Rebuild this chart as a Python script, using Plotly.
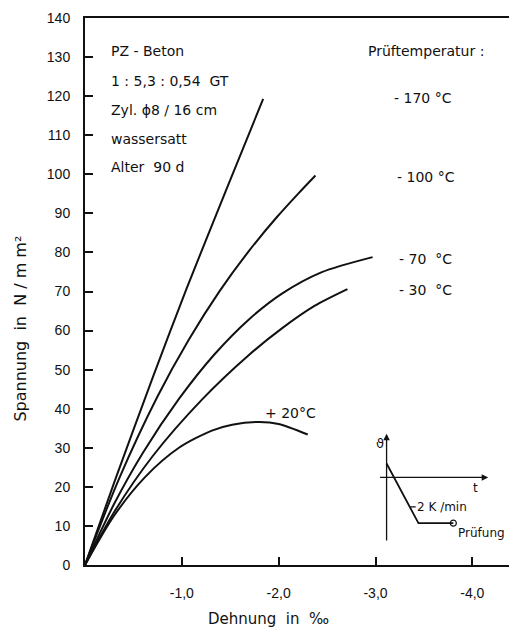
import plotly.graph_objects as go

# ---- data (strain in per mille, stress in N/mm^2) ----
c170_strain = [0, -0.3, -0.7, -1.05, -1.45, -1.84]
c170_stress = [0, 21, 48, 70.8, 95.5, 119.3]

c100_strain = [0, -0.35, -0.75, -1.07, -1.39, -1.70, -1.98, -2.2, -2.38]
c100_stress = [0, 22, 43.2, 57.6, 70.1, 80.6, 89.0, 95.0, 99.7]

c70_strain = [0, -0.3, -0.6, -0.97, -1.34, -1.69, -2.03, -2.44, -2.97]
c70_stress = [0, 15.6, 28.8, 42.5, 54.0, 62.8, 69.4, 74.9, 78.8]

c30_strain = [0, -0.3, -0.7, -1.21, -1.69, -2.03, -2.37, -2.71]
c30_stress = [0, 13.5, 27.9, 42.4, 53.7, 60.5, 66.3, 70.6]

c20_strain = [0, -0.3, -0.62, -0.97, -1.31, -1.52, -1.8, -2.0, -2.3]
c20_stress = [0, 12.6, 22.5, 30.0, 34.4, 35.9, 36.6, 36.1, 33.4]

x_tickvals = [-1, -2, -3, -4]
x_ticktext = ["-1,0", "-2,0", "-3,0", "-4,0"]
y_tickvals = list(range(0, 141, 10))
y_ticktext = [str(v) for v in y_tickvals]

# inset schematic: time vs temperature
inset_t = [0, 3.2, 6.7]
inset_theta = [1.4, -4.6, -4.6]

FONT = "DejaVu Sans, Liberation Sans, sans-serif"
TICKFONT = "Liberation Sans, Arial, sans-serif"
INK = "#111111"

fig = go.Figure()
for xs, ys in [(c170_strain, c170_stress), (c100_strain, c100_stress),
               (c70_strain, c70_stress), (c30_strain, c30_stress),
               (c20_strain, c20_stress)]:
    fig.add_trace(go.Scatter(x=xs, y=ys, mode="lines",
                             line=dict(color=INK, width=2, shape="spline", smoothing=0.8),
                             showlegend=False, hoverinfo="skip"))

# inset curve
fig.add_trace(go.Scatter(x=inset_t, y=inset_theta, mode="lines", xaxis="x2", yaxis="y2",
                         line=dict(color=INK, width=1.8), showlegend=False, hoverinfo="skip"))
fig.add_trace(go.Scatter(x=inset_t[-1:], y=inset_theta[-1:], mode="markers", xaxis="x2", yaxis="y2",
                         marker=dict(symbol="circle-open", size=6, color=INK, line=dict(width=1.2)),
                         showlegend=False, hoverinfo="skip"))

# page body has an 8px default margin -> figure is 8px smaller, margins 8px less
fig.update_layout(
    width=509, height=619,
    margin=dict(l=77, r=2, t=7, b=62),
    paper_bgcolor="white", plot_bgcolor="white",
    font=dict(family=FONT, color=INK, size=14),
    xaxis=dict(range=[0, -4.42], showgrid=False, zeroline=False,
               showline=True, linecolor=INK, linewidth=2, mirror=True,
               ticks="inside", ticklen=8, tickwidth=1.5, tickcolor=INK,
               tickvals=x_tickvals, ticktext=x_ticktext,
               tickfont=dict(family=TICKFONT, size=14), ticklabelstandoff=14),
    yaxis=dict(range=[0, 140], showgrid=False, zeroline=False,
               showline=True, linecolor=INK, linewidth=2, mirror=True,
               ticks="inside", ticklen=8, tickwidth=1.5, tickcolor=INK,
               tickvals=y_tickvals, ticktext=y_ticktext, ticklabeloverflow="allow",
               tickfont=dict(family=TICKFONT, size=14), ticklabelstandoff=10),
    xaxis2=dict(domain=[0.686, 0.942], range=[-0.8, 10.2], anchor="y2",
                visible=False, fixedrange=True),
    yaxis2=dict(domain=[0.042, 0.24], range=[-6.5, 4.4], anchor="x2",
                visible=False, fixedrange=True),
)

ann = []
def txt(x, y, s, size=14, xanchor="left", xref="paper", yref="paper"):
    ann.append(dict(x=x, y=y, xref=xref, yref=yref, text=s, showarrow=False,
                    xanchor=xanchor, yanchor="middle",
                    font=dict(family=FONT, size=size, color=INK)))

def px(xp):  # screen pixel -> paper x
    return (xp - 85) / 430
def py(yp):  # screen pixel -> paper y
    return (565 - yp) / 550

# specimen info
txt(px(109), py(48), "PZ - Beton")
txt(px(109), py(78), "1 : 5,3 : 0,54  GT")
txt(px(109), py(108), "Zyl. ϕ8 / 16 cm")
txt(px(109), py(137), "wassersatt")
txt(px(109), py(165), "Alter  90 d")

# temperatures
txt(px(428), py(48), "Prüftemperatur :", xanchor="center")
txt(px(425), py(95), "- 170 °C", xanchor="center")
txt(px(428), py(175), "- 100 °C", xanchor="center")
txt(px(427), py(257), "- 70  °C", xanchor="center")
txt(px(427), py(288), "- 30  °C", xanchor="center")
txt(px(291), py(412), "+ 20°C", xanchor="center")

# axis titles
ann.append(dict(x=px(20), y=py(327), xref="paper", yref="paper",
                xanchor="center", yanchor="middle",
                text="Spannung  in  N / m m²", textangle=-90, showarrow=False,
                font=dict(family=FONT, size=16, color=INK)))
ann.append(dict(x=px(269), y=py(619), xref="paper", yref="paper",
                xanchor="center", yanchor="middle",
                text="Dehnung  in  ‰", showarrow=False,
                font=dict(family=FONT, size=15, color=INK)))

# inset axes (arrows)
ann.append(dict(x=0, y=4.4, ax=0, ay=-6.5, xref="x2", yref="y2", axref="x2", ayref="y2",
                text="", showarrow=True, arrowhead=2, arrowsize=1, arrowwidth=1.3, arrowcolor=INK))
ann.append(dict(x=10.2, y=0, ax=-0.8, ay=0, xref="x2", yref="y2", axref="x2", ayref="y2",
                text="", showarrow=True, arrowhead=2, arrowsize=1, arrowwidth=1.3, arrowcolor=INK))
txt(-0.7, 3.4, "ϑ", size=13, xanchor="center", xref="x2", yref="y2")
txt(8.9, -1.1, "t", size=12, xanchor="center", xref="x2", yref="y2")
ann.append(dict(x=2.37, y=-2.97, xref="x2", yref="y2", text="2 K /min",
                showarrow=True, arrowhead=0, arrowwidth=1.2, arrowcolor=INK,
                ax=32, ay=0, font=dict(family=FONT, size=12, color=INK)))
txt(7.0, -5.6, "Prüfung", size=12, xanchor="left", xref="x2", yref="y2")

fig.update_layout(annotations=ann)
fig.write_html("out.html")
